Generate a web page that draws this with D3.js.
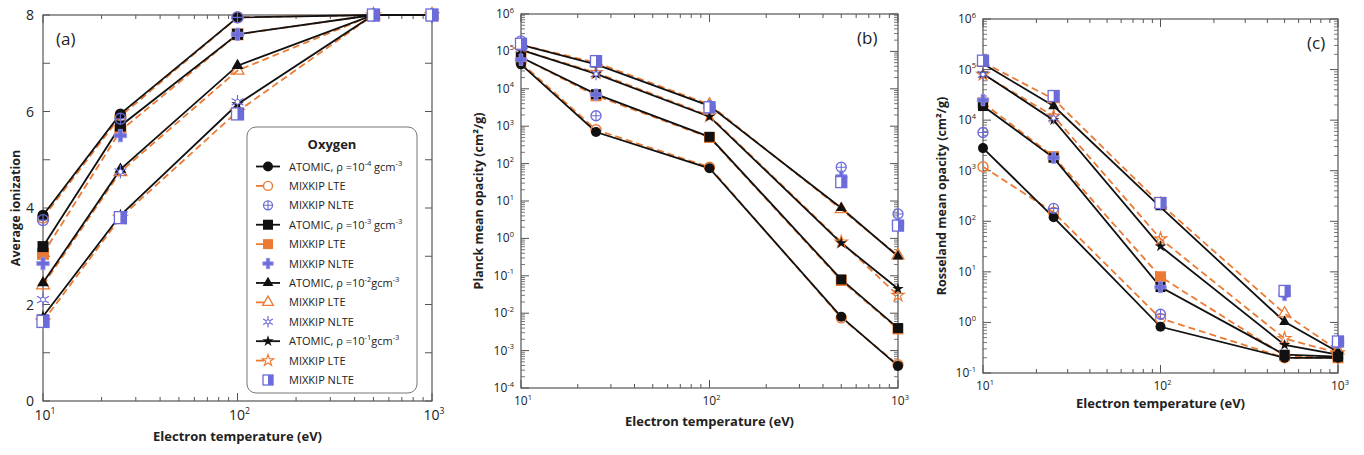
<!DOCTYPE html>
<html>
<head>
<meta charset="utf-8">
<title>Oxygen opacities</title>
<script src="https://d3js.org/d3.v7.min.js"></script>
<style>
  body { margin: 0; background: #fff; }
  text { font-family: "Open Sans", sans-serif; fill: #222; }
</style>
</head>
<body>
<svg id="chart" width="1364" height="455"></svg>
<script>
// ---- data ----
const temps = [10, 25, 100, 500, 1000]
const rhoExps = ['-4', '-3', '-2', '-1']
const rhoGaps = [' gcm', ' gcm', 'gcm', 'gcm']

// (a) average ionization, rows: rho = 1e-4, 1e-3, 1e-2, 1e-1
const ionAtomic = [[3.85, 5.95, 7.95, 8, 8], [3.2, 5.7, 7.6, 8, 8], [2.45, 4.8, 6.95, 8, 8], [1.75, 3.85, 6.15, 8, 8]]
const ionLte = [[3.8, 5.9, 7.95, 8, 8], [3.05, 5.6, 7.6, 8, 8], [2.4, 4.75, 6.85, 8, 8], [1.65, 3.8, 6.0, 8, 8]]
const ionNlte = [[3.75, 5.85, 7.95, 8, 8], [2.85, 5.5, 7.6, 8, 8], [2.1, 4.75, 6.2, 8, 8], [1.65, 3.8, 5.95, 8, 8]]

// (b) Planck mean opacity (cm2/g)
const planckAtomic = [[4.5e4, 7e2, 75, 8e-3, 3.9e-4], [7e4, 7.2e3, 5.2e2, 0.08, 4e-3], [1.5e5, 4.5e4, 3.5e3, 6.5, 0.33], [1.1e5, 2.5e4, 1.8e3, 0.75, 0.045]]
const planckLte = [[5e4, 8e2, 80, 7.5e-3, 4.2e-4], [7e4, 6.5e3, 5e2, 0.075, 3.8e-3], [1.5e5, 5e4, 3.8e3, 6, 0.35], [1.1e5, 2.7e4, 1.9e3, 0.8, 0.03]]
const planckNlte = [[1.9e5, 1.9e3, 3.5e3, 80, 4.5], [6e4, 7e3, 3.4e3, 45, 2.5], [1.2e5, 2.5e4, 3.5e3, 35, 2], [1.6e5, 5.5e4, 3.2e3, 32, 2.2]]

// (c) Rosseland mean opacity (cm2/g)
const rossAtomic = [[2.8e3, 1.2e2, 0.82, 0.2, 0.2], [1.9e4, 1.8e3, 5, 0.23, 0.21], [1.3e5, 1.9e4, 1.9e2, 1.03, 0.26], [8.3e4, 1.0e4, 32, 0.36, 0.23]]
const rossLte = [[1.2e3, 1.5e2, 1.2, 0.2, 0.2], [2.2e4, 1.9e3, 8, 0.22, 0.2], [1.4e5, 2.6e4, 2.2e2, 1.5, 0.28], [8e4, 1.2e4, 45, 0.48, 0.25]]
const rossNlte = [[5.7e3, 1.8e2, 1.45, 3.8, 0.42], [2.5e4, 1.8e3, 5, 3.5, 0.4], [8e4, 1.1e4, 2.2e2, 4, 0.45], [1.5e5, 3e4, 2.3e2, 4.2, 0.42]]

const atomicShapes = ['aCircle', 'aSquare', 'aTri', 'aStar']
const lteShapes = ['lCircle', 'lSquare', 'lTri', 'lStar']
const nlteShapes = ['nCircle', 'nCross', 'nSun', 'nHalf']

const BLACK = '#111', ORANGE = '#ec7a32', PURPLE = '#6b6bd9', FRAME = '#555'

const svg = d3.select('#chart')

function drawMarker(g, kind, x, y, s) {
  const m = g.append('g').attr('transform', `translate(${x},${y})`)
  const r = s / 2
  switch (kind) {
    case 'aCircle': m.append('circle').attr('r', r).attr('fill', BLACK); break
    case 'aSquare': m.append('rect').attr('x', -r).attr('y', -r).attr('width', s).attr('height', s).attr('fill', BLACK); break
    case 'aTri': m.append('path').attr('d', d3.symbol(d3.symbolTriangle, s * s * 0.5)()).attr('fill', BLACK); break
    case 'aStar': m.append('path').attr('d', d3.symbol(d3.symbolStar, s * s * 0.4)()).attr('fill', BLACK); break
    case 'lCircle': m.append('circle').attr('r', r - 0.5).attr('fill', 'none').attr('stroke', ORANGE).attr('stroke-width', 1.4); break
    case 'lSquare': m.append('rect').attr('x', -r).attr('y', -r).attr('width', s).attr('height', s).attr('fill', ORANGE); break
    case 'lTri': m.append('path').attr('d', d3.symbol(d3.symbolTriangle, s * s * 0.5)()).attr('fill', 'none').attr('stroke', ORANGE).attr('stroke-width', 1.3); break
    case 'lStar': m.append('path').attr('d', d3.symbol(d3.symbolStar, s * s * 0.4)()).attr('fill', 'none').attr('stroke', ORANGE).attr('stroke-width', 1.2); break
    case 'nCircle':
      m.append('circle').attr('r', r - 0.5).attr('fill', 'none').attr('stroke', PURPLE).attr('stroke-width', 1.3)
      m.append('path').attr('d', `M${-r + 0.5},0H${r - 0.5}M0,${-r + 0.5}V${r - 0.5}`).attr('stroke', PURPLE).attr('stroke-width', 1.1)
      break
    case 'nCross':
      m.append('path').attr('d', d3.symbol(d3.symbolCross, s * s * 0.6)()).attr('fill', PURPLE).attr('stroke', '#9a9ae8').attr('stroke-width', 0.8)
      break
    case 'nSun':
      m.append('path').attr('d', d3.symbol(d3.symbolAsterisk, s * s * 0.9)()).attr('fill', 'none').attr('stroke', PURPLE).attr('stroke-width', 1.2)
      m.append('circle').attr('r', r * 0.4).attr('fill', '#fff').attr('stroke', PURPLE).attr('stroke-width', 1)
      break
    case 'nHalf':
      m.append('rect').attr('x', -r).attr('y', -r).attr('width', s).attr('height', s).attr('fill', '#fff').attr('stroke', PURPLE).attr('stroke-width', 1.3)
      m.append('rect').attr('x', 0).attr('y', -r).attr('width', r).attr('height', s).attr('fill', PURPLE)
      break
  }
}

function supText(sel, base, exp, fs) {
  sel.append('tspan').text(base)
  sel.append('tspan').attr('dy', -fs * 0.45).attr('font-size', fs * 0.62).text(exp)
}

function drawPanel(p) {
  const g = svg.append('g')
  const x = d3.scaleLog().domain([10, 1000]).range([p.left, p.right])
  const y = p.log
    ? d3.scaleLog().domain(p.yDomain).range([p.bottom, p.top])
    : d3.scaleLinear().domain(p.yDomain).range([p.bottom, p.top])

  // frame
  g.append('rect').attr('x', p.left).attr('y', p.top)
    .attr('width', p.right - p.left).attr('height', p.bottom - p.top)
    .attr('fill', 'none').attr('stroke', FRAME).attr('stroke-width', 1.2)

  // x ticks (inward, mirrored)
  const xTicks = []
  for (let d = 10; d < 1000; d *= 10) for (let k = 1; k < 10; k++) xTicks.push(d * k)
  xTicks.push(1000)
  xTicks.forEach(v => {
    const major = Math.abs(Math.log10(v) % 1) < 1e-9
    const len = major ? 8 : 4
    const xx = x(v)
    g.append('path').attr('d', `M${xx},${p.bottom}v${-len}M${xx},${p.top}v${len}`)
      .attr('stroke', FRAME).attr('stroke-width', 1)
  })
  ;[10, 100, 1000].forEach((v, i) => {
    const t = g.append('text').attr('x', x(v) + 2).attr('y', p.bottom + p.xLabelDy)
      .attr('text-anchor', 'middle').attr('font-size', p.tickFs)
    supText(t, '10', String(i + 1), p.tickFs)
  })

  // y ticks
  if (p.log) {
    const lo = Math.log10(p.yDomain[0]), hi = Math.log10(p.yDomain[1])
    for (let e = lo; e <= hi; e++) {
      const yy = y(Math.pow(10, e))
      g.append('path').attr('d', `M${p.left},${yy}h8M${p.right},${yy}h-8`).attr('stroke', FRAME)
      const t = g.append('text').attr('x', p.left - 7).attr('y', yy + 4)
        .attr('text-anchor', 'end').attr('font-size', p.tickFs)
      supText(t, '10', String(e), p.tickFs)
      if (e < hi) for (let k = 2; k < 10; k++) {
        const ym = y(k * Math.pow(10, e))
        g.append('path').attr('d', `M${p.left},${ym}h4M${p.right},${ym}h-4`).attr('stroke', FRAME).attr('stroke-width', 0.8)
      }
    }
  } else {
    d3.range(0, 9).forEach(v => {
      const yy = y(v)
      g.append('path').attr('d', `M${p.left},${yy}h7M${p.right},${yy}h-7`).attr('stroke', FRAME)
    })
    ;[0, 2, 4, 6, 8].forEach(v => {
      g.append('text').attr('x', p.left - 9).attr('y', y(v) + 5)
        .attr('text-anchor', 'end').attr('font-size', 14).text(v)
    })
  }

  // axis titles
  g.append('text').attr('x', (p.left + p.right) / 2).attr('y', p.bottom + p.xTitleDy)
    .attr('text-anchor', 'middle').attr('font-size', 13).attr('font-weight', 'bold')
    .text('Electron temperature (eV)')
  const yt = g.append('text')
    .attr('transform', `translate(${p.yTitleX},${(p.top + p.bottom) / 2}) rotate(-90)`)
    .attr('text-anchor', 'middle').attr('font-size', 12.5).attr('font-weight', 'bold')
  if (p.log) {
    yt.append('tspan').text(p.yTitle)
    yt.append('tspan').text('(cm²/g)')
  } else yt.text(p.yTitle)

  // panel letter
  g.append('text').attr('x', p.letterX).attr('y', p.top + 30).attr('font-size', 17).text(p.letter)

  // series lines
  const line = d3.line().x((d, i) => x(temps[i])).y(d => y(d))
  p.lte.forEach(vals => {
    g.append('path').attr('d', line(vals)).attr('fill', 'none')
      .attr('stroke', ORANGE).attr('stroke-width', 1.8).attr('stroke-dasharray', '7,4')
  })
  p.atomic.forEach(vals => {
    g.append('path').attr('d', line(vals)).attr('fill', 'none')
      .attr('stroke', BLACK).attr('stroke-width', 1.8)
  })

  // markers: LTE below, atomic, NLTE on top
  const ms = p.markerSize
  p.lte.forEach((vals, k) => vals.forEach((v, i) => drawMarker(g, lteShapes[k], x(temps[i]), y(v), ms)))
  p.atomic.forEach((vals, k) => vals.forEach((v, i) => drawMarker(g, atomicShapes[k], x(temps[i]), y(v), ms - 1)))
  p.nlte.forEach((vals, k) => vals.forEach((v, i) => drawMarker(g, nlteShapes[k], x(temps[i]), y(v), ms)))
  return g
}

const panelA = drawPanel({
  left: 43, right: 432, top: 15, bottom: 401, log: false, yDomain: [0, 8],
  atomic: ionAtomic, lte: ionLte, nlte: ionNlte, markerSize: 12, tickFs: 14,
  xLabelDy: 19, xTitleDy: 40, yTitleX: 20, yTitle: 'Average ionization',
  letter: '(a)', letterX: 56
})
drawPanel({
  left: 521, right: 898, top: 14, bottom: 388, log: true, yDomain: [1e-4, 1e6],
  atomic: planckAtomic, lte: planckLte, nlte: planckNlte, markerSize: 11, tickFs: 12,
  xLabelDy: 17, xTitleDy: 38, yTitleX: 483, yTitle: 'Planck mean opacity ',
  letter: '(b)', letterX: 857
})
drawPanel({
  left: 983, right: 1338, top: 19, bottom: 373, log: true, yDomain: [1e-1, 1e6],
  atomic: rossAtomic, lte: rossLte, nlte: rossNlte, markerSize: 11, tickFs: 12,
  xLabelDy: 17, xTitleDy: 35, yTitleX: 946, yTitle: 'Rosseland mean opacity ',
  letter: '(c)', letterX: 1307
})

// legend of panel (a)
const lg = panelA.append('g')
lg.append('rect').attr('x', 247).attr('y', 127).attr('width', 170).attr('height', 266)
  .attr('rx', 9).attr('fill', '#fff').attr('stroke', '#777').attr('stroke-width', 1)
lg.append('text').attr('x', 332).attr('y', 149).attr('text-anchor', 'middle')
  .attr('font-size', 13).attr('font-weight', 'bold').text('Oxygen')
const rowY = d3.scaleLinear().domain([0, 11]).range([166.5, 380])
const symX = 268, txtX = 289
rhoExps.forEach((ex, k) => {
  const y0 = rowY(k * 3), y1 = rowY(k * 3 + 1), y2 = rowY(k * 3 + 2)
  lg.append('path').attr('d', `M${symX - 12},${y0}H${symX + 12}`).attr('stroke', BLACK).attr('stroke-width', 1.8)
  drawMarker(lg, atomicShapes[k], symX, y0, 10)
  const t = lg.append('text').attr('x', txtX).attr('y', y0 + 4).attr('font-size', 11)
  t.append('tspan').text('ATOMIC, ρ =10')
  t.append('tspan').attr('dy', -5).attr('font-size', 7.5).text(ex)
  t.append('tspan').attr('dy', 5).text(rhoGaps[k])
  t.append('tspan').attr('dy', -5).attr('font-size', 7.5).text('-3')

  lg.append('path').attr('d', `M${symX - 12},${y1}H${symX - 4}`).attr('stroke', ORANGE).attr('stroke-width', 1.8)
  drawMarker(lg, lteShapes[k], symX, y1, 10)
  lg.append('text').attr('x', txtX).attr('y', y1 + 4).attr('font-size', 11).text('MIXKIP LTE')

  drawMarker(lg, nlteShapes[k], symX, y2, 10)
  lg.append('text').attr('x', txtX).attr('y', y2 + 4).attr('font-size', 11).text('MIXKIP NLTE')
})
</script>
</body>
</html>
